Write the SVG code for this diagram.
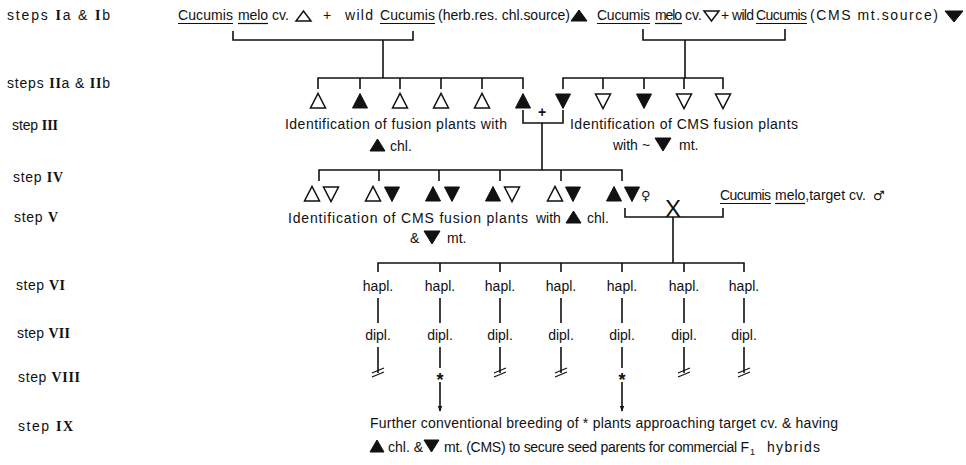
<svg xmlns="http://www.w3.org/2000/svg" xmlns:xlink="http://www.w3.org/1999/xlink" width="966" height="465" viewBox="0 0 966 465">
<style>
.t{font-family:"Liberation Sans",Arial,sans-serif;font-size:14px;fill:#111}
.s{font-family:"DejaVu Sans",sans-serif;font-size:13px;fill:#111}
.r{font-family:"Liberation Serif","Times New Roman",serif;font-weight:bold}
.m{text-anchor:middle}
.ln{stroke:#111;stroke-width:1.6;fill:none}
.ul{stroke:#111;stroke-width:1.2}
.o{fill:#fff;stroke:#111;stroke-width:1.5;stroke-linejoin:miter}
.f{fill:#111;stroke:#111;stroke-width:1}
</style>
<defs>
<polygon id="tu" points="-7.5,7 7.5,7 0,-7.5"/>
<polygon id="td" points="-7.5,-7 7.5,-7 0,7.5"/>
<marker id="ah" viewBox="0 0 8 8" refX="7" refY="4" markerWidth="6" markerHeight="6" orient="auto" markerUnits="userSpaceOnUse">
<path d="M0,1 L8,4 L0,7 z" fill="#111"/>
</marker>
</defs>
<rect width="966" height="465" fill="#fff"/>

<g id="labels">
<text class="t" x="7" y="20" textLength="103">steps <tspan class="r">I</tspan>a &amp; <tspan class="r">I</tspan>b</text>
<text class="t" x="7" y="88" textLength="103">steps <tspan class="r">II</tspan>a &amp; <tspan class="r">II</tspan>b</text>
<text class="t" x="12" y="130" textLength="46">step <tspan class="r">III</tspan></text>
<text class="t" x="13" y="182" textLength="50">step <tspan class="r">IV</tspan></text>
<text class="t" x="14" y="222" textLength="44">step <tspan class="r">V</tspan></text>
<text class="t" x="16" y="290" textLength="49">step <tspan class="r">VI</tspan></text>
<text class="t" x="17" y="338" textLength="53">step <tspan class="r">VII</tspan></text>
<text class="t" x="18" y="382" textLength="62">step <tspan class="r">VIII</tspan></text>
<text class="t" x="18" y="431" textLength="55">step <tspan class="r">IX</tspan></text>
</g>

<g id="parent-cross-1">
<text class="t" x="178" y="20" textLength="55">Cucumis</text>
<line class="ul" x1="178" y1="23.5" x2="233" y2="23.5"/>
<text class="t" x="238" y="20" textLength="30">melo</text>
<line class="ul" x1="238" y1="23.5" x2="268" y2="23.5"/>
<text class="t" x="272" y="20">cv.</text>
<polygon class="o" points="296,21 311,21 303.5,11"/>
<text class="t" x="323" y="20">+</text>
<text class="t" x="345" y="20" textLength="28">wild</text>
<text class="t" x="380" y="20" textLength="55">Cucumis</text>
<line class="ul" x1="380" y1="23.5" x2="435" y2="23.5"/>
<text class="t" x="438" y="20" textLength="132">(herb.res. chl.source)</text>
<polygon class="f" points="571,21 587,21 579,10"/>
</g>

<g id="parent-cross-2">
<text class="t" x="597" y="20" textLength="53">Cucumis</text>
<line class="ul" x1="597" y1="23.5" x2="650" y2="23.5"/>
<text class="t" x="655" y="20" textLength="27">melo</text>
<line class="ul" x1="655" y1="23.5" x2="682" y2="23.5"/>
<text class="t" x="685" y="20">cv.</text>
<polygon class="o" points="704,11 719,11 711.5,21"/>
<text class="t" x="721" y="20">+</text>
<text class="t" x="732" y="20" textLength="22">wild</text>
<text class="t" x="756" y="20" textLength="51">Cucumis</text>
<line class="ul" x1="756" y1="23.5" x2="807" y2="23.5"/>
<text class="t" x="810" y="20" textLength="128">(CMS mt.source)</text>
<polygon class="f" points="945,11 963,11 954,22"/>
</g>

<g id="fusion-products-chl">
<use href="#tu" class="o" x="318" y="101"/>
<use href="#tu" class="f" x="360" y="101"/>
<use href="#tu" class="o" x="400" y="101"/>
<use href="#tu" class="o" x="441" y="101"/>
<use href="#tu" class="o" x="482" y="101"/>
<use href="#tu" class="f" x="523" y="101"/>
</g>
<g id="fusion-products-mt">
<use href="#td" class="f" x="563" y="101"/>
<use href="#td" class="o" x="603" y="101"/>
<use href="#td" class="f" x="644" y="101"/>
<use href="#td" class="o" x="684" y="101"/>
<use href="#td" class="o" x="723" y="101"/>
</g>
<g id="plus-III">
<text class="t m" x="542" y="117" style="font-weight:bold;font-size:14px">+</text>
</g>

<g id="step3-left-text">
<text class="t" x="285" y="129" textLength="222">Identification of fusion plants with</text>
<polygon class="f" points="370,151 385,151 377.5,139"/>
<text class="t" x="390" y="151">chl.</text>
</g>
<g id="step3-right-text">
<text class="t" x="570" y="129" textLength="228">Identification of CMS fusion plants</text>
<text class="t" x="613" y="150">with</text>
<text class="t" x="642" y="150">~</text>
<polygon class="f" points="655,138 671,138 663,151"/>
<text class="t" x="679" y="150">mt.</text>
</g>

<g id="step5-pairs">
<use href="#tu" class="o" x="312" y="194"/><use href="#td" class="o" x="331" y="194"/>
<use href="#tu" class="o" x="373" y="194"/><use href="#td" class="f" x="392" y="194"/>
<use href="#tu" class="f" x="433" y="194"/><use href="#td" class="f" x="452" y="194"/>
<use href="#tu" class="f" x="493" y="194"/><use href="#td" class="o" x="512" y="194"/>
<use href="#tu" class="o" x="555" y="194"/><use href="#td" class="f" x="573" y="194"/>
<use href="#tu" class="f" x="614" y="194"/><use href="#td" class="f" x="632" y="194"/>
<text class="s" x="641" y="200">♀</text>
</g>
<g id="target-cv">
<text class="t" x="720" y="200" textLength="51">Cucumis</text>
<line class="ul" x1="720" y1="203.5" x2="771" y2="203.5"/>
<text class="t" x="775" y="200">melo,target cv.</text>
<line class="ul" x1="775" y1="203.5" x2="805" y2="203.5"/>
<text class="s" x="873" y="200">♂</text>
</g>
<g id="cross-X">
<text class="t m" x="673" y="217" style="font-size:24px">X</text>
</g>

<g id="step5-text">
<text class="t" x="288" y="223" textLength="240">Identification of CMS fusion plants</text>
<text class="t" x="536" y="223">with</text>
<polygon class="f" points="566,223 581,223 573.5,211"/>
<text class="t" x="587" y="223">chl.</text>
<text class="t" x="410" y="243">&amp;</text>
<polygon class="f" points="424,231 440,231 432,244"/>
<text class="t" x="447" y="243">mt.</text>
</g>

<g id="haploids">
<text class="t m" x="378" y="291">hapl.</text>
<text class="t m" x="440" y="291">hapl.</text>
<text class="t m" x="500" y="291">hapl.</text>
<text class="t m" x="561" y="291">hapl.</text>
<text class="t m" x="622" y="291">hapl.</text>
<text class="t m" x="684" y="291">hapl.</text>
<text class="t m" x="744" y="291">hapl.</text>
</g>
<g id="diploids">
<text class="t m" x="378" y="340">dipl.</text>
<text class="t m" x="440" y="340">dipl.</text>
<text class="t m" x="500" y="340">dipl.</text>
<text class="t m" x="561" y="340">dipl.</text>
<text class="t m" x="622" y="340">dipl.</text>
<text class="t m" x="684" y="340">dipl.</text>
<text class="t m" x="744" y="340">dipl.</text>
</g>
<g id="selected">
<text class="t m" x="440" y="386" style="font-size:18px;font-weight:bold">*</text>
<text class="t m" x="622" y="386" style="font-size:18px;font-weight:bold">*</text>
</g>

<g id="step9-text">
<text class="t" x="370" y="428" textLength="468">Further conventional breeding of * plants approaching target cv. &amp; having</text>
<polygon class="f" points="370,452 384,452 377,440"/>
<text class="t" x="388" y="452">chl. &amp;</text>
<polygon class="f" points="424,440 439,440 431.5,452"/>
<text class="t" x="444" y="452" textLength="305">mt. (CMS) to secure seed parents for commercial F</text>
<text class="t" x="750" y="455" style="font-size:9px">1</text>
<text class="t" x="767" y="452" textLength="53">hybrids</text>
</g>

<g id="connectors" class="ln">
<path d="M233,31 V40 H413 V31"/>
<path d="M383,40 V78"/>
<path d="M318,89 V78 H523 V89 M360,78 V89 M400,78 V89 M441,78 V89 M482,78 V89"/>
<path d="M643,29 V40 H785 V29"/>
<path d="M685,40 V78"/>
<path d="M563,89 V78 H723 V89 M603,78 V89 M644,78 V89 M684,78 V89"/>
<path d="M523,110 V123 H563 V110"/>
<path d="M542,123 V170"/>
<path d="M319,181 V170 H622 V181 M379,170 V181 M439,170 V181 M500,170 V181 M561,170 V181"/>
<path d="M625,208 V217 H723 V208"/>
<path d="M673,217 V263"/>
<path d="M378,272 V263 H744 V272 M440,263 V272 M500,263 V272 M561,263 V272 M622,263 V272 M684,263 V272"/>
<path d="M378,298 V323 M440,298 V323 M500,298 V323 M561,298 V323 M622,298 V323 M684,298 V323 M744,298 V323"/>
<path d="M378,347 V373 M500,347 V373 M561,347 V373 M684,347 V373 M744,347 V373"/>
<path d="M440,347 V368 M622,347 V368"/>
<path d="M372,373 L384,368 M372,377 L384,372 M494,373 L506,368 M494,377 L506,372 M555,373 L567,368 M555,377 L567,372 M678,373 L690,368 M678,377 L690,372 M738,373 L750,368 M738,377 L750,372" style="stroke-width:1.2"/>
<path d="M440,382 V411" marker-end="url(#ah)"/>
<path d="M622,382 V411" marker-end="url(#ah)"/>
</g>
</svg>
